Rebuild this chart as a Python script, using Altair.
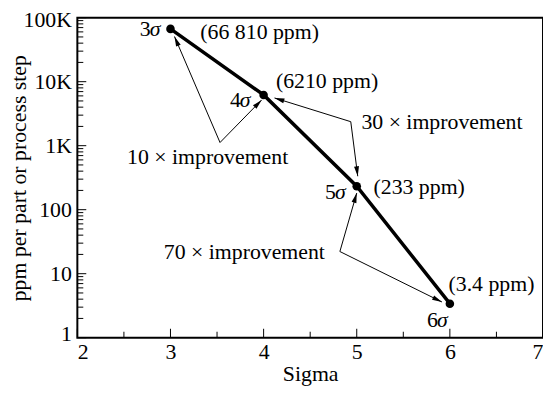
import math
import altair as alt
import pandas as pd

# ---------------- data ----------------
sigma = [3, 4, 5, 6]
ppm = [66810, 6210, 233, 3.4]
sigma_nums = ["3", "4", "5", "6"]
ppm_labels = ["(66 810 ppm)", "(6210 ppm)", "(233 ppm)", "(3.4 ppm)"]

x_ticks = [2, 3, 4, 5, 6, 7]
x_minor = [2.5, 3.5, 4.5, 5.5, 6.5]
y_ticks = [1, 10, 100, 1000, 10000, 100000]
y_tick_labels = ["1", "10", "100", "1K", "10K", "100K"]
y_minor = [k * 10 ** e for e in range(5) for k in range(2, 10)]

improve_labels = ["10 × improvement", "30 × improvement", "70 × improvement"]
improve_x = [3.399, 5.915, 3.793]
improve_y = [657, 2370, 21.4]

# arrows: from elbow (vertex) to arrow tip
arrow_from_x = [3.532, 3.532, 4.936, 4.936, 4.819, 4.819]
arrow_from_y = [1121, 1121, 2370, 2370, 22.2, 22.2]
arrow_to_x = [3.043, 3.979, 4.117, 5.011, 5.0, 5.915]
arrow_to_y = [50800, 5190, 5570, 333, 182, 3.61]

# ---------------- layout ----------------
W, H = 470, 323
FONT = "Liberation Serif"
FS = 22

xscale = alt.Scale(domain=[2, 7], nice=False, zero=False)
yscale = alt.Scale(type="log", domain=[1, 100000], nice=False)


def px(x):
    return (x - 2) / 5 * W


def py(y):
    return H - math.log10(y) / 5 * H


angles = []
for fx, fy, tx, ty in zip(arrow_from_x, arrow_from_y, arrow_to_x, arrow_to_y):
    dx = px(tx) - px(fx)
    dy = py(ty) - py(fy)
    angles.append(math.degrees(math.atan2(dx, -dy)) % 360)

pts = pd.DataFrame({"sigma": sigma, "ppm": ppm, "sn": sigma_nums,
                    "sg": ["σ"] * 4, "pl": ppm_labels})
arrows = pd.DataFrame({"x": arrow_from_x, "y": arrow_from_y,
                       "x2": arrow_to_x, "y2": arrow_to_y, "ang": angles})
imp = pd.DataFrame({"x": improve_x, "y": improve_y, "t": improve_labels})
ymaj = pd.DataFrame({"v": y_ticks})
ymin = pd.DataFrame({"v": y_minor})
xmaj = pd.DataFrame({"v": x_ticks})
xmin = pd.DataFrame({"v": x_minor})

label_expr = ("datum.value >= 100000 ? '100K' : datum.value >= 10000 ? '10K' : "
              "datum.value >= 1000 ? '1K' : datum.label")

base = alt.Chart(pts)

main_line = base.mark_line(color="black", strokeWidth=3.5).encode(
    x=alt.X("sigma:Q", scale=xscale,
            axis=alt.Axis(values=x_ticks, title="Sigma", ticks=False, domain=False,
                          grid=False, labelPadding=4, format="d", titlePadding=1,
                          labelFont=FONT, titleFont=FONT, labelFontSize=FS,
                          titleFontSize=FS, labelColor="black", titleColor="black",
                          titleFontWeight="normal")),
    y=alt.Y("ppm:Q", scale=yscale,
            axis=alt.Axis(values=y_ticks, title="ppm per part or process step",
                          ticks=False, domain=False, grid=False, labelPadding=6,
                          labelFlush=True, labelFlushOffset=8,
                          labelExpr=label_expr, titleX=-59, titleY=H / 2,
                          titleBaseline="middle", titleAngle=270,
                          labelFont=FONT, titleFont=FONT, labelFontSize=FS,
                          titleFontSize=FS, labelColor="black", titleColor="black",
                          titleFontWeight="normal")),
)
dots = base.mark_circle(color="black", opacity=1, size=75).encode(
    x=alt.X("sigma:Q", scale=xscale), y=alt.Y("ppm:Q", scale=yscale))

# point labels
sig_offsets = [(-21, 0), (-24, 5), (-22, 6), (-13, 17)]
ppm_offsets = [(90, 3), (64, -14), (63, 1), (42, -20)]
label_layers = []
for i in range(4):
    d = pts.iloc[[i]]
    ox, oy = sig_offsets[i]
    label_layers.append(
        alt.Chart(d).mark_text(font=FONT, fontSize=FS, color="black",
                               dx=ox + 1, dy=oy, baseline="middle", align="right").encode(
            x=alt.X("sigma:Q", scale=xscale), y=alt.Y("ppm:Q", scale=yscale),
            text="sn:N"))
    label_layers.append(
        alt.Chart(d).mark_text(font=FONT, fontSize=FS, color="black", fontStyle="italic",
                               dx=ox, dy=oy, baseline="middle", align="left").encode(
            x=alt.X("sigma:Q", scale=xscale), y=alt.Y("ppm:Q", scale=yscale),
            text="sg:N"))
    ox, oy = ppm_offsets[i]
    label_layers.append(
        alt.Chart(d).mark_text(font=FONT, fontSize=FS, color="black",
                               dx=ox, dy=oy, baseline="middle", align="center").encode(
            x=alt.X("sigma:Q", scale=xscale), y=alt.Y("ppm:Q", scale=yscale),
            text="pl:N"))

arrow_lines = alt.Chart(arrows).mark_rule(color="black", strokeWidth=1).encode(
    x=alt.X("x:Q", scale=xscale), y=alt.Y("y:Q", scale=yscale), x2="x2:Q", y2="y2:Q")
arrow_heads = alt.Chart(arrows).mark_point(
    shape="M0,0 L0.5,2 L-0.5,2 Z", filled=True, color="black", opacity=1, size=100,
    strokeWidth=0).encode(
    x=alt.X("x2:Q", scale=xscale), y=alt.Y("y2:Q", scale=yscale),
    angle=alt.Angle("ang:Q", scale=None))

imp_text = alt.Chart(imp).mark_text(font=FONT, fontSize=FS, color="black",
                                    baseline="middle", align="center").encode(
    x=alt.X("x:Q", scale=xscale), y=alt.Y("y:Q", scale=yscale), text="t:N")

# inward ticks
tick_y_maj = alt.Chart(ymaj).mark_rule(color="black", strokeWidth=1).encode(
    y=alt.Y("v:Q", scale=yscale), x=alt.value(0), x2=alt.value(9))
tick_y_min = alt.Chart(ymin).mark_rule(color="black", strokeWidth=1).encode(
    y=alt.Y("v:Q", scale=yscale), x=alt.value(0), x2=alt.value(6))
tick_x_maj = alt.Chart(xmaj).mark_rule(color="black", strokeWidth=1).encode(
    x=alt.X("v:Q", scale=xscale), y=alt.value(H), y2=alt.value(H - 9))
tick_x_min = alt.Chart(xmin).mark_rule(color="black", strokeWidth=1).encode(
    x=alt.X("v:Q", scale=xscale), y=alt.value(H), y2=alt.value(H - 6))

chart = alt.layer(
    main_line, tick_y_maj, tick_y_min, tick_x_maj, tick_x_min,
    arrow_lines, arrow_heads, dots, imp_text, *label_layers
).properties(
    width=W, height=H,
    background="white",
    autosize=alt.AutoSizeParams(type="none"),
    padding={"left": 70, "top": 8, "right": 0, "bottom": 48},
).configure_view(
    stroke="black", strokeWidth=2
)

chart.save("out.html", embed_options={"renderer": "svg", "actions": False})
